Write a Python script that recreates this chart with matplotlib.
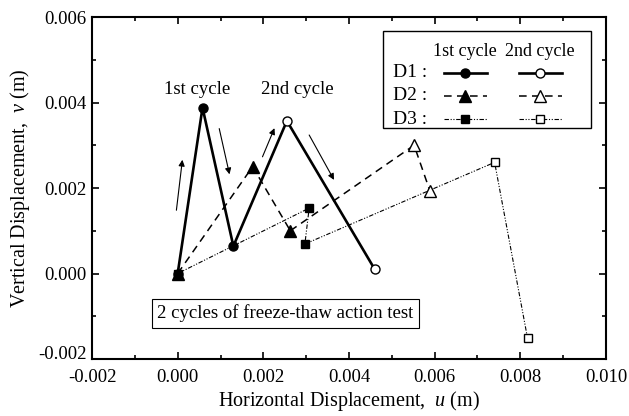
import matplotlib
matplotlib.use('Agg')
import matplotlib.pyplot as plt
from matplotlib.lines import Line2D
from matplotlib.patches import Rectangle

plt.rcParams['font.family'] = ['Liberation Serif', 'DejaVu Serif']
plt.rcParams['mathtext.fontset'] = 'custom'
plt.rcParams['mathtext.it'] = 'Liberation Serif:italic'
plt.rcParams['mathtext.rm'] = 'Liberation Serif'

# D1 / D2 / D3, 1st cycle and 2nd cycle (2nd starts where the 1st ended)
d1_u1 = [0.0, 0.00058, 0.0013]
d1_v1 = [0.0, 0.00388, 0.00064]
d1_u2 = [0.0013, 0.00255, 0.0046]
d1_v2 = [0.00064, 0.00357, 0.0001]

d2_u1 = [0.0, 0.00175, 0.00263]
d2_v1 = [0.0, 0.0025, 0.0010]
d2_u2 = [0.00263, 0.00552, 0.00589]
d2_v2 = [0.0010, 0.0030, 0.00193]

d3_u1 = [0.0, 0.00307, 0.00297]
d3_v1 = [0.0, 0.00153, 0.00069]
d3_u2 = [0.00297, 0.0074, 0.00817]
d3_v2 = [0.00069, 0.0026, -0.00152]

series_names = ['D1 :', 'D2 :', 'D3 :']
markers = ['o', '^', 's']
msizes = [6.5, 8.5, 5.5]
lstyles = ['-', (0, (5, 3.5)), (0, (4, 1.5, 1, 1.5, 1, 1.5))]
lwidths = [1.9, 1.1, 0.8]

# arrows: (u_start, v_start, u_end, v_end)
arrows = [
    (-0.00003, 0.00148, 0.00011, 0.00266),
    (0.00097, 0.00339, 0.00121, 0.00232),
    (0.00198, 0.00273, 0.00226, 0.00340),
    (0.00307, 0.00324, 0.00365, 0.00219),
]

fig = plt.figure(figsize=(6.29, 4.16), dpi=100)
ax = fig.add_axes([0.1463, 0.137, 0.8171, 0.8221])

first = [(d1_u1, d1_v1), (d2_u1, d2_v1), (d3_u1, d3_v1)]
second = [(d1_u2, d1_v2), (d2_u2, d2_v2), (d3_u2, d3_v2)]
zs = [3, 5, 4]
for i in range(3):
    u, v = first[i]
    ax.plot(u, v, color='black', ls=lstyles[i], lw=lwidths[i], marker=markers[i],
            ms=msizes[i], mfc='black', mec='black', zorder=zs[i])
    u, v = second[i]
    ax.plot(u, v, color='black', ls=lstyles[i], lw=lwidths[i], marker=markers[i],
            ms=msizes[i], mfc='white', mec='black', mew=1.0, markevery=[1, 2], zorder=zs[i])

for a in arrows:
    ax.annotate('', xy=(a[2], a[3]), xytext=(a[0], a[1]),
                arrowprops=dict(arrowstyle='-|>', color='black', lw=0.8,
                                mutation_scale=9, shrinkA=0, shrinkB=0))

ax.text(0.00045, 0.0043, '1st cycle', ha='center', va='center', fontsize=13.5)
ax.text(0.0028, 0.0043, '2nd cycle', ha='center', va='center', fontsize=13.5)

ax.text(0.127, 0.134, '2 cycles of freeze-thaw action test', transform=ax.transAxes,
        ha='left', va='center', fontsize=13.5,
        bbox=dict(boxstyle='square,pad=0.3', fc='white', ec='black', lw=0.8))

# hand-made legend
ax.add_patch(Rectangle((0.566, 0.675), 0.405, 0.284, transform=ax.transAxes,
                       fc='white', ec='black', lw=1.0, zorder=6))
ax.text(0.726, 0.898, '1st cycle', transform=ax.transAxes, ha='center', va='center',
        fontsize=13, zorder=7)
ax.text(0.872, 0.898, '2nd cycle', transform=ax.transAxes, ha='center', va='center',
        fontsize=13, zorder=7)
rows_y = [0.837, 0.770, 0.701]
for i in range(3):
    y = rows_y[i]
    ax.text(0.586, y, series_names[i], transform=ax.transAxes, ha='left', va='center',
            fontsize=14, zorder=7)
    for xc, fc in [(0.726, 'black'), (0.872, 'white')]:
        ax.add_line(Line2D([xc - 0.042, xc + 0.042], [y, y], transform=ax.transAxes,
                           color='black', ls=lstyles[i], lw=lwidths[i], zorder=7))
        ax.add_line(Line2D([xc], [y], transform=ax.transAxes, marker=markers[i],
                           ms=msizes[i], mfc=fc, mec='black', mew=1.0, ls='none', zorder=8))

ax.set_xlim(-0.002, 0.010)
ax.set_ylim(-0.002, 0.006)
ax.set_xticks([-0.002, 0.0, 0.002, 0.004, 0.006, 0.008, 0.010])
ax.set_yticks([-0.002, 0.0, 0.002, 0.004, 0.006])
ax.set_xticks([-0.001, 0.001, 0.003, 0.005, 0.007, 0.009], minor=True)
ax.set_yticks([-0.001, 0.001, 0.003, 0.005], minor=True)
ax.set_xticklabels(['-0.002', '0.000', '0.002', '0.004', '0.006', '0.008', '0.010'])
ax.set_yticklabels(['-0.002', '0.000', '0.002', '0.004', '0.006'])
ax.tick_params(which='both', direction='in', top=True, right=True, labelsize=13.5, width=1.2)
ax.tick_params(which='major', length=5, pad=4)
ax.tick_params(which='minor', length=3)
ax.tick_params(axis='x', which='major', pad=7)
for s in ax.spines.values():
    s.set_linewidth(1.5)
# the lowest y label sits on its tick, as in the original
ax.get_yticklabels()[0].set_verticalalignment('baseline')

ax.set_xlabel('Horizontal Displacement,  $u$ (m)', fontsize=14.5, labelpad=2)
ax.set_ylabel('Vertical Displacement,  $v$ (m)', fontsize=14.5, labelpad=4)

fig.savefig('out.png', dpi=100)
